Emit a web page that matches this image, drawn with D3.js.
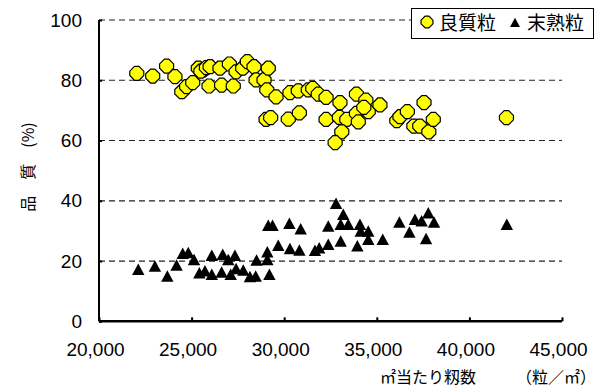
<!DOCTYPE html>
<html>
<head>
<meta charset="utf-8">
<script src="https://cdn.jsdelivr.net/npm/d3@7"></script>
<style>
  html, body { margin: 0; padding: 0; background: #fff; }
  svg { display: block; }
  text { font-family: "Liberation Sans", Arial, sans-serif; fill: #000; }
  .jp { font-family: "Noto Sans CJK JP", "Noto Sans CJK SC", sans-serif; }
</style>
</head>
<body>
<svg id="chart" width="607" height="390"></svg>
<script>
// 良質粒 (good grains) — x: grains per ㎡, y: %
const goodX = [22040, 22900, 23650, 24100, 24470, 24730, 25060, 25360, 25630, 25500,
  25800, 25940, 26000, 26530, 26620, 27040, 27250, 27400, 27760, 28010,
  28370, 28480, 28910, 29060, 29140, 29560, 29020, 29270, 30220, 30820,
  30310, 30760, 31300, 31540, 31840, 32260, 33010, 32260, 32980, 33380,
  33110, 32750, 33900, 34410, 33900, 34540, 34000, 34300, 35170, 36080,
  36250, 36650, 37550, 37000, 37320, 37810, 38050, 42000];
const goodY = [82.3, 81.4, 84.7, 81.2, 76.2, 77.9, 79.2, 84.0, 83.4, 83.0,
  84.2, 78.1, 84.5, 84.0, 78.4, 85.4, 78.1, 82.8, 84.0, 86.2,
  84.5, 80.1, 80.1, 76.8, 84.0, 74.5, 67.0, 67.6, 67.1, 69.2,
  75.9, 76.5, 76.8, 77.3, 75.4, 74.3, 72.6, 67.0, 67.7, 67.0,
  62.9, 59.3, 75.4, 73.4, 69.0, 69.6, 66.2, 71.0, 71.8, 66.6,
  67.9, 69.6, 72.6, 64.8, 64.8, 62.9, 67.0, 67.6];

// 末熟粒 (immature grains)
const immX = [22120, 23020, 23690, 24190, 24520, 24820, 25130, 25420, 25720, 26090,
  26090, 26620, 26680, 26980, 27110, 27340, 27400, 27790, 28150, 28460,
  28510, 29090, 29090, 29200, 29140, 29370, 29680, 30310, 30280, 30820,
  30890, 32800, 33190, 32380, 33050, 33460, 34090, 34130, 34540, 34540,
  35320, 33050, 33950, 32380, 31890, 31660, 36220, 37060, 37420, 37780,
  38090, 36760, 37660, 42020];
const immY = [17.0, 18.1, 14.8, 18.4, 22.3, 22.6, 20.3, 15.9, 16.5, 21.7,
  15.4, 16.1, 22.0, 20.3, 15.4, 21.7, 17.3, 16.8, 14.6, 14.8,
  20.1, 22.8, 20.3, 15.4, 31.6, 31.6, 25.0, 23.9, 32.3, 23.4,
  30.5, 38.9, 35.3, 31.4, 32.0, 32.0, 32.0, 29.7, 29.7, 27.0,
  27.0, 26.4, 24.8, 25.3, 24.2, 23.3, 32.7, 33.6, 33.1, 35.8,
  32.7, 29.4, 27.2, 32.0];

const xTicks = [20000, 25000, 30000, 35000, 40000, 45000];
const yTicks = [0, 20, 40, 60, 80, 100];
const seriesNames = ["良質粒", "末熟粒"];
const xTitleMain = "㎡当たり籾数";
const xTitleUnit = "（粒／㎡）";
const yTitle = "品　質　(%)";

const svg = d3.select("#chart");
const plotL = 99, plotR = 562, plotT = 20, plotB = 321.3;

const x = d3.scaleLinear().domain([20000, 45000]).range([plotL, plotR]);
const y = d3.scaleLinear().domain([0, 100]).range([plotB, plotT]);
const fmt = d3.format(",");

// dashed gridlines
svg.append("g").selectAll("line").data(yTicks.filter(d => d > 0)).join("line")
  .attr("x1", plotL).attr("x2", plotR)
  .attr("y1", d => y(d)).attr("y2", d => y(d))
  .attr("stroke", "#222").attr("stroke-width", 1.2)
  .attr("stroke-dasharray", "6,4");

// y axis
const yAxis = svg.append("g").attr("transform", `translate(${plotL},0)`)
  .call(d3.axisLeft(y).tickValues(yTicks).tickSize(-3).tickPadding(17).tickFormat(d3.format("d")));
yAxis.select(".domain").attr("stroke", "#000").attr("stroke-width", 2).attr("d", `M0,${plotT}V${plotB}`);
yAxis.selectAll(".tick line").attr("stroke", "#000").attr("stroke-width", 2);
yAxis.selectAll(".tick text").attr("font-size", 19).attr("font-family", "Liberation Sans, Arial, sans-serif");

// x axis
const xAxis = svg.append("g").attr("transform", `translate(0,${plotB})`)
  .call(d3.axisBottom(x).tickValues(xTicks).tickSize(-4).tickPadding(21).tickFormat(fmt));
xAxis.select(".domain").attr("stroke", "#000").attr("stroke-width", 2.5).attr("d", `M${plotL},0H${plotR}`);
xAxis.selectAll(".tick line").attr("stroke", "#000").attr("stroke-width", 2);
xAxis.selectAll(".tick text").attr("font-size", 19).attr("dx", -4)
  .attr("font-family", "Liberation Sans, Arial, sans-serif");

// marker shapes
const oct = s => {
  const a = 7 * s, b = 2.2 * s;
  return `M${-b},${-a}L${b},${-a}L${a},${-b}L${a},${b}L${b},${a}L${-b},${a}L${-a},${b}L${-a},${-b}Z`;
};
const tri = s => `M0,${-6.5 * s}L${6.2 * s},${5 * s}L${-6.2 * s},${5 * s}Z`;

// 良質粒 markers
svg.append("g").selectAll("path").data(d3.zip(goodX, goodY)).join("path")
  .attr("d", oct(1))
  .attr("transform", d => `translate(${x(d[0])},${y(d[1])})`)
  .attr("fill", "#FFFF00").attr("stroke", "#000").attr("stroke-width", 1.2);

// 末熟粒 markers
svg.append("g").selectAll("path").data(d3.zip(immX, immY)).join("path")
  .attr("d", tri(1))
  .attr("transform", d => `translate(${x(d[0])},${y(d[1])})`)
  .attr("fill", "#000");

// legend
const lg = svg.append("g");
lg.append("rect").attr("x", 411.5).attr("y", 8.5).attr("width", 182).attr("height", 30)
  .attr("fill", "#fff").attr("stroke", "#000").attr("stroke-width", 1);
lg.append("path").attr("d", oct(0.85)).attr("transform", "translate(427,22)")
  .attr("fill", "#FFFF00").attr("stroke", "#000").attr("stroke-width", 1.2);
lg.append("text").attr("class", "jp").attr("x", 439).attr("y", 23).attr("dy", "0.35em")
  .attr("font-size", 19).text(seriesNames[0]);
lg.append("path").attr("d", tri(0.8)).attr("transform", "translate(515,23)").attr("fill", "#000");
lg.append("text").attr("class", "jp").attr("x", 527).attr("y", 23).attr("dy", "0.35em")
  .attr("font-size", 19).text(seriesNames[1]);

// axis titles
svg.append("text").attr("class", "jp")
  .attr("transform", "translate(28,167) rotate(-90)")
  .attr("text-anchor", "middle").attr("dy", "0.35em").attr("font-size", 16)
  .text(yTitle);
const xt = svg.append("text").attr("class", "jp")
  .attr("y", 377).attr("dy", "0.35em").attr("font-size", 16);
xt.append("tspan").attr("x", 380).text(xTitleMain);
xt.append("tspan").attr("x", 516).text(xTitleUnit);
</script>
</body>
</html>
